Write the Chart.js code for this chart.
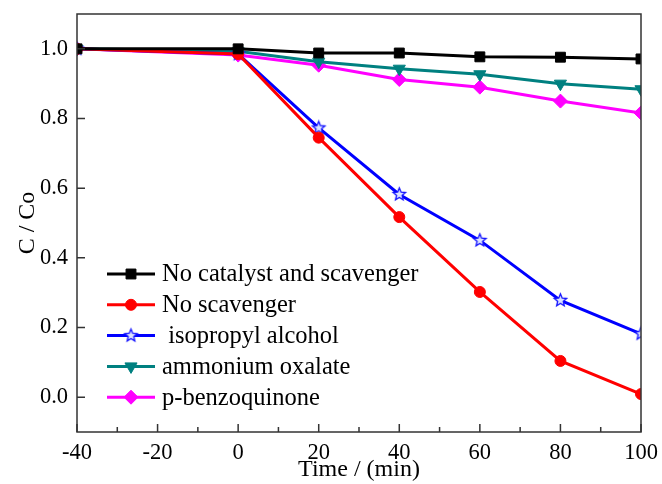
<!DOCTYPE html>
<html>
<head>
<meta charset="utf-8">
<script src="https://cdn.jsdelivr.net/npm/chart.js@4.4.1/dist/chart.umd.min.js"></script>
<style>
  html, body { margin: 0; padding: 0; background: #fff; }
  #wrap { width: 662px; height: 484px; }
</style>
</head>
<body>
<div id="wrap"><canvas id="chart" width="662" height="484"></canvas></div>
<script>
// Degradation curves with scavengers
const times = [-40, 0, 20, 40, 60, 80, 100];
const noCatalyst = [1.0, 1.0, 0.988, 0.988, 0.977, 0.976, 0.971];
const noScavenger = [1.0, 0.985, 0.745, 0.517, 0.302, 0.104, 0.009];
const isopropanol = [1.0, 0.985, 0.773, 0.582, 0.450, 0.278, 0.182];
const ammoniumOxalate = [1.0, 0.993, 0.963, 0.943, 0.927, 0.900, 0.884];
const benzoquinone = [1.0, 0.982, 0.953, 0.912, 0.890, 0.850, 0.816];
const seriesLabels = ['No catalyst and scavenger', 'No scavenger', ' isopropyl alcohol', 'ammonium oxalate', 'p-benzoquinone'];
const yTickValues = [0.0, 0.2, 0.4, 0.6, 0.8, 1.0];

function makeStar(color, r) {
    const c = document.createElement('canvas');
    const s = Math.ceil(r * 2 + 4);
    c.width = s; c.height = s;
    const g = c.getContext('2d');
    g.beginPath();
    for (let i = 0; i < 10; i++) {
        const rad = i % 2 === 0 ? r : r * 0.45;
        const a = -Math.PI / 2 + i * Math.PI / 5;
        const px = s / 2 + rad * Math.cos(a);
        const py = s / 2 + rad * Math.sin(a);
        if (i === 0) g.moveTo(px, py); else g.lineTo(px, py);
    }
    g.closePath();
    g.fillStyle = '#dde4ff';
    g.fill();
    g.lineWidth = 1.3;
    g.strokeStyle = color;
    g.stroke();
    return c;
}
const starImg = makeStar('#1010ff', 6.5);

function pts(vals) {
    return times.map((t, i) => ({ x: t, y: vals[i] }));
}

const styles = [
    { color: '#000000', pointStyle: 'rect', radius: 7, rotation: 0 },
    { color: '#ff0000', pointStyle: 'circle', radius: 5.5, rotation: 0 },
    { color: '#0000ff', pointStyle: starImg, radius: 6, rotation: 0 },
    { color: '#008080', pointStyle: 'triangle', radius: 7, rotation: 180 },
    { color: '#ff00ff', pointStyle: 'rectRot', radius: 7, rotation: 0 }
];
const allSeries = [noCatalyst, noScavenger, isopropanol, ammoniumOxalate, benzoquinone];

const datasets = allSeries.map((vals, i) => ({
    label: seriesLabels[i],
    data: pts(vals),
    borderColor: styles[i].color,
    backgroundColor: styles[i].color,
    borderWidth: 3,
    pointStyle: styles[i].pointStyle,
    pointRadius: styles[i].radius,
    pointRotation: styles[i].rotation,
    pointBorderWidth: 1,
    tension: 0
}));

const SERIF = '"Liberation Serif", "Times New Roman", serif';

// frame, inward ticks and in-plot legend
const framePlugin = {
    id: 'frame',
    afterDatasetsDraw(chart) {
        const ctx = chart.ctx;
        const a = chart.chartArea;
        const xs = chart.scales.x;
        const ys = chart.scales.y;
        ctx.save();
        ctx.strokeStyle = '#333';
        ctx.lineWidth = 1.5;
        ctx.strokeRect(a.left, a.top, a.right - a.left, a.bottom - a.top);

        ctx.beginPath();
        const xt = xs.ticks.map(t => t.value);
        xt.forEach((v, i) => {
            const px = xs.getPixelForValue(v);
            ctx.moveTo(px, a.bottom);
            ctx.lineTo(px, a.bottom - 8);
            if (i < xt.length - 1) {
                const mx = xs.getPixelForValue((v + xt[i + 1]) / 2);
                ctx.moveTo(mx, a.bottom);
                ctx.lineTo(mx, a.bottom - 5);
            }
        });
        ys.ticks.forEach(t => {
            const py = ys.getPixelForValue(t.value);
            ctx.moveTo(a.left, py);
            ctx.lineTo(a.left + 8, py);
        });
        ctx.stroke();

        // legend
        const lx0 = 107, lx1 = 155, tx = 162, y0 = 274, dy = 30.8;
        ctx.font = '24.5px ' + SERIF;
        ctx.textBaseline = 'middle';
        ctx.textAlign = 'left';
        chart.data.datasets.forEach((ds, i) => {
            const y = y0 + i * dy;
            ctx.strokeStyle = ds.borderColor;
            ctx.lineWidth = 3;
            ctx.beginPath();
            ctx.moveTo(lx0, y);
            ctx.lineTo(lx1, y);
            ctx.stroke();
            ctx.fillStyle = ds.backgroundColor;
            ctx.strokeStyle = ds.borderColor;
            ctx.lineWidth = 1;
            Chart.helpers.drawPoint(ctx, {
                pointStyle: ds.pointStyle,
                radius: ds.pointRadius,
                rotation: ds.pointRotation,
                borderWidth: 1
            }, (lx0 + lx1) / 2, y);
            ctx.fillStyle = '#000';
            ctx.fillText(ds.label, tx, y + 1);
        });
        ctx.restore();
    }
};

new Chart(document.getElementById('chart'), {
    type: 'line',
    data: { datasets: datasets },
    options: {
        responsive: false,
        animation: false,
        layout: { padding: { top: 14, right: 21, left: 0, bottom: 0 } },
        plugins: {
            legend: { display: false },
            tooltip: { enabled: false }
        },
        scales: {
            x: {
                type: 'linear',
                min: -40,
                max: 100,
                grid: { display: false, drawTicks: false },
                border: { display: false },
                ticks: {
                    stepSize: 20,
                    color: '#000',
                    padding: 8,
                    maxRotation: 0,
                    font: { family: SERIF, size: 22.5 }
                },
                title: {
                    display: true,
                    text: 'Time / (min)',
                    color: '#000',
                    font: { family: SERIF, size: 24 },
                    padding: { top: 0, bottom: 0 }
                },
                afterFit(scale) {
                    scale.height = 52;
                    scale.paddingLeft = 0;
                    scale.paddingRight = 0;
                }
            },
            y: {
                min: -0.1,
                max: 1.1,
                grid: { display: false, drawTicks: false },
                border: { display: false },
                afterBuildTicks(scale) {
                    scale.ticks = yTickValues.map(v => ({ value: v }));
                },
                ticks: {
                    color: '#000',
                    padding: 9,
                    font: { family: SERIF, size: 22.5 },
                    callback: v => Number(v).toFixed(1)
                },
                title: {
                    display: true,
                    text: 'C / Co',
                    color: '#000',
                    font: { family: SERIF, size: 24 },
                    padding: { top: 13, bottom: 0 }
                },
                afterFit(scale) {
                    scale.width = 77;
                    scale.paddingTop = 0;
                    scale.paddingBottom = 0;
                }
            }
        }
    },
    plugins: [framePlugin]
});
</script>
</body>
</html>
